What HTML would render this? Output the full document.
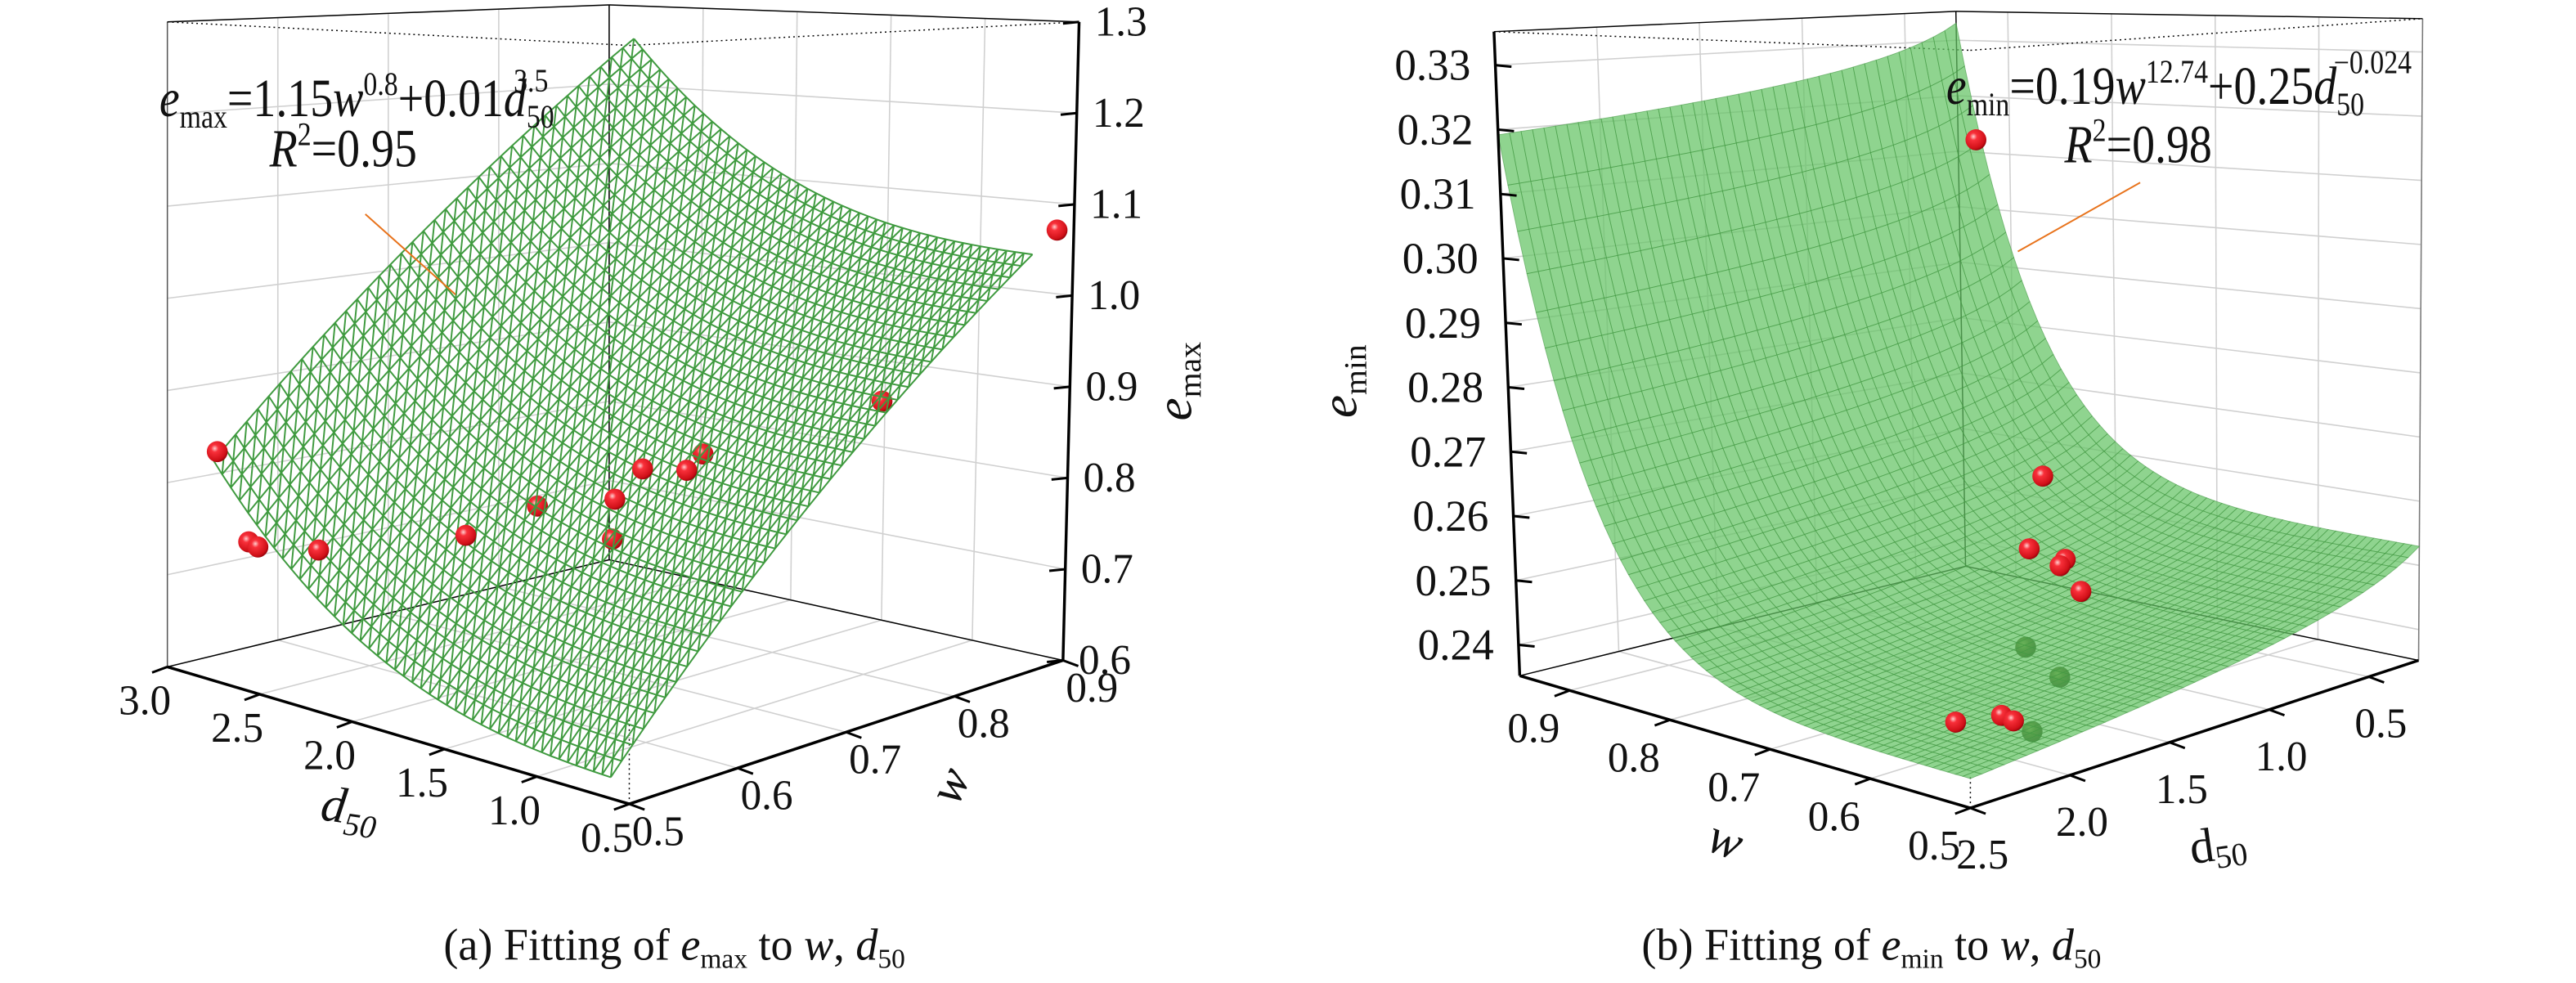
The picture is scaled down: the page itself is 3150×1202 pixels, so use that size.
<!DOCTYPE html>
<html><head><meta charset="utf-8"><title>Fitting of emax and emin</title>
<style>
html,body{margin:0;padding:0;background:#fff;}
svg{display:block;font-family:"Liberation Serif",serif;}
</style></head>
<body>
<svg id="fig" xmlns="http://www.w3.org/2000/svg" width="3150" height="1202" viewBox="0 0 3150 1202">
<defs>
<radialGradient id="redBall" cx="0.38" cy="0.35" r="0.7">
<stop offset="0" stop-color="#ffd0d0"/><stop offset="0.25" stop-color="#f8303a"/><stop offset="0.8" stop-color="#d01018"/><stop offset="1" stop-color="#8a0008"/>
</radialGradient>
<radialGradient id="darkBall" cx="0.38" cy="0.35" r="0.7">
<stop offset="0" stop-color="#7a8a40"/><stop offset="0.4" stop-color="#3a4a10"/><stop offset="1" stop-color="#141e04"/>
</radialGradient>
</defs>
<rect x="0" y="0" width="3150" height="1202" fill="#fff"/>
<g id="chartA" transform="matrix(0.984,0,0,0.992,0,0)"></g>
<g id="chartB" transform="matrix(0.984,0,0,0.992,25.2,0)"></g>
</svg>
<script>
// ---------- Chart (a) data ----------
const A_dTicks = [0.5, 1.0, 1.5, 2.0, 2.5, 3.0];
const A_wTicks = [0.5, 0.6, 0.7, 0.8, 0.9];
const A_zTicks = [0.6, 0.7, 0.8, 0.9, 1.0, 1.1, 1.2, 1.3];
const A_ptD = [2.73, 2.56, 2.51, 2.42, 1.98, 1.95, 1.53, 1.90, 1.50, 1.38, 1.53, 1.04, 0.59];
const A_ptW = [0.50, 0.50, 0.50, 0.54, 0.60, 0.66, 0.66, 0.72, 0.68, 0.70, 0.74, 0.82, 0.90];
const A_ptE = [0.845, 0.757, 0.754, 0.745, 0.765, 0.782, 0.806, 0.732, 0.834, 0.832, 0.834, 0.888, 1.07];
const A_ptHidden = [0, 0, 0, 0, 0, 1, 0, 1, 0, 0, 1, 1, 0];
const A_fitCoef = [1.3, 0.8, 0.00626, 3.5, -0.128];
const A_fitD = [0.6, 2.75];
const A_fitW = [0.5, 0.88];

// ---------- Chart (b) data ----------
const B_dTicks = [0.5, 1.0, 1.5, 2.0, 2.5];
const B_wTicks = [0.5, 0.6, 0.7, 0.8, 0.9];
const B_zTicks = [0.24, 0.25, 0.26, 0.27, 0.28, 0.29, 0.30, 0.31, 0.32, 0.33];
const B_ptD = [0.39, 0.31, 0.61, 0.43, 0.57, 0.58, 1.20, 1.37, 1.85, 2.12, 1.89, 1.83];
const B_ptW = [0.905, 0.86, 0.815, 0.815, 0.7925, 0.77, 0.7025, 0.635, 0.5675, 0.59, 0.59, 0.59];
const B_ptE = [0.313, 0.2547, 0.2461, 0.2428, 0.2437, 0.2403, 0.2392, 0.2386, 0.2374, 0.2402, 0.2392, 0.2379];
const B_ptHidden = [0, 0, 0, 0, 0, 0, 1, 1, 1, 0, 0, 0];
const B_fitCoef = [0.154, 12.74, 0.25, -0.024, -0.0055];
const B_fitD = [0.25, 2.5];
const B_fitW = [0.5, 0.95];

const NS = "http://www.w3.org/2000/svg";
function mk(tag, attrs, parent) {
  const el = document.createElementNS(NS, tag);
  for (const k in attrs) el.setAttribute(k, attrs[k]);
  parent.appendChild(el);
  return el;
}
function line(p, q, style, parent) {
  return mk('line', Object.assign({x1: p[0].toFixed(1), y1: p[1].toFixed(1), x2: q[0].toFixed(1), y2: q[1].toFixed(1)}, style), parent);
}
function projA(d, w, z) {
  const u = (d - 0.5) / 2.5, v = (w - 0.5) / 0.4, t = (z - 0.6) / 0.7;
  const S = 935 - 140 * u - 148 * v + 37 * u * v;
  const x = 782 - 574 * u + 539 * v + 10 * u * v + t * (20 * v - 20 * u * v);
  const y = 991 - 169 * u - 177 * v + 45 * u * v - t * S;
  return [x, y];
}
function projB(d, w, z) {
  const u = (w - 0.5) / 0.45, v = (2.5 - d) / 2.25, t = (z - 0.2352) / 0.1;
  const S = 934 - 140 * u - 143 * v + 33 * u * v;
  const x = 2423 - 560 * u + 557 * v - 3 * u * v + t * (-32 * u + 5 * v + 15 * u * v);
  const y = 996 - 163 * u - 182 * v + 47 * u * v - t * S;
  return [x, y];
}
function fitA(d, w) { return A_fitCoef[0] * Math.pow(w, A_fitCoef[1]) + A_fitCoef[2] * Math.pow(d, A_fitCoef[3]) + A_fitCoef[4]; }
function fitB(d, w) { return B_fitCoef[0] * Math.pow(w, B_fitCoef[1]) + B_fitCoef[2] * Math.pow(d, B_fitCoef[3]) + B_fitCoef[4]; }

const grid = {stroke: '#d0d0d0', 'stroke-width': 1.6};
const thin = {stroke: '#000', 'stroke-width': 1.5};
const axisS = {stroke: '#000', 'stroke-width': 3.5};
const dotted = {stroke: '#000', 'stroke-width': 1.5, 'stroke-dasharray': '2,4'};

function ball(p, hidden, darkColor, parent) {
  return mk('circle', {cx: p[0].toFixed(1), cy: p[1].toFixed(1), r: 13, fill: hidden && darkColor ? 'url(#darkBall)' : 'url(#redBall)'}, parent);
}
function txt(x, y, s, size, parent, extra) {
  const t = mk('text', Object.assign({x: x.toFixed(1), y: y.toFixed(1), 'font-size': size, 'text-anchor': 'middle', 'dominant-baseline': 'central', fill: '#111'}, extra || {}), parent);
  t.textContent = s;
  return t;
}

// =================== Chart A ===================
(function () {
  const g = document.getElementById('chartA');
  const d0 = 0.5, d1 = 3.0, w0 = 0.5, w1 = 0.9, z0 = 0.6, z1 = 1.3;
  A_zTicks.forEach(z => {
    let el = line(projA(d1, w0, z), projA(d1, w1, z), grid, g);
    
    
    el = line(projA(d1, w1, z), projA(d0, w1, z), grid, g);
    
    
  });
  A_wTicks.forEach(w => {
    let el = line(projA(d1, w, z0), projA(d1, w, z1), grid, g);
    
    
    el = line(projA(d0, w, z0), projA(d1, w, z0), grid, g);
    
    
  });
  A_dTicks.forEach(d => {
    let el = line(projA(d, w1, z0), projA(d, w1, z1), grid, g);
    
    
    el = line(projA(d, w0, z0), projA(d, w1, z0), grid, g);
    
    
  });
  let e;
  e = line(projA(d1, w0, z0), projA(d1, w0, z1), {stroke: '#555', 'stroke-width': 1.5}, g);
  
  
  e = line(projA(d1, w1, z0), projA(d1, w1, z1), thin, g);
  
  
  e = line(projA(d1, w0, z1), projA(d1, w1, z1), thin, g);
  
  
  e = line(projA(d1, w1, z1), projA(d0, w1, z1), thin, g);
  
  
  e = line(projA(d1, w0, z1), projA(d0, w0, z1), dotted, g);
  
  
  e = line(projA(d0, w0, z1), projA(d0, w1, z1), dotted, g);
  
  
  e = line(projA(d0, w0, z0), projA(d0, w0, 0.68), dotted, g);
  
  
  e = line(projA(d1, w1, z0), projA(d0, w1, z0), {stroke: '#000', 'stroke-width': 1.5}, g);
  
  
  e = line(projA(d1, w0, z0), projA(d1, w1, z0), {stroke: '#000', 'stroke-width': 1.5}, g);
  
  

  A_ptD.forEach((d, i) => {
    if (!A_ptHidden[i]) return;
    const c = ball(projA(d, A_ptW[i], A_ptE[i]), true, false, g);
    
    
  });

  const ND = 46, NW = 38;
  let pd = '', pw = '', pdg = '';
  const P = [];
  for (let i = 0; i <= ND; i++) {
    P.push([]);
    for (let j = 0; j <= NW; j++) {
      const d = A_fitD[0] + (A_fitD[1] - A_fitD[0]) * i / ND;
      const w = A_fitW[0] + (A_fitW[1] - A_fitW[0]) * j / NW;
      P[i].push(projA(d, w, fitA(d, w)));
    }
  }
  const f = p => p[0].toFixed(1) + ',' + p[1].toFixed(1);
  for (let i = 0; i <= ND; i++) { pd += 'M' + f(P[i][0]); for (let j = 1; j <= NW; j++) pd += 'L' + f(P[i][j]); }
  for (let j = 0; j <= NW; j++) { pw += 'M' + f(P[0][j]); for (let i = 1; i <= ND; i++) pw += 'L' + f(P[i][j]); }
  for (let k = -NW; k <= ND; k++) {
    let first = true;
    for (let i = 0; i <= ND; i++) { const j = i - k; if (j < 0 || j > NW) continue; pdg += (first ? 'M' : 'L') + f(P[i][j]); first = false; }
  }
  const ms = {fill: 'none', stroke: '#3f9a3f', 'stroke-width': 2};
  let m = mk('path', Object.assign({d: pd}, ms), g);
  
  
  m = mk('path', Object.assign({d: pw}, ms), g);
  
  
  m = mk('path', Object.assign({d: pdg}, ms), g);
  
  

  A_ptD.forEach((d, i) => {
    if (A_ptHidden[i]) return;
    const c = ball(projA(d, A_ptW[i], A_ptE[i]), false, false, g);
    
    
  });

  e = line(projA(d0, w1, z0), projA(d0, w1, z1), axisS, g);
  
  
  e = line(projA(d0, w0, z0), projA(d1, w0, z0), axisS, g);
  
  
  e = line(projA(d0, w0, z0), projA(d0, w1, z0), axisS, g);
  
  

  A_zTicks.forEach(z => {
    const p = projA(d0, w1, z);
    let t = line(p, [p[0] - 20, p[1] + 2], {stroke: '#000', 'stroke-width': 3}, g);
    
    
    t = txt(p[0] + 52, p[1], z.toFixed(1), 52, g);
    
    
  });
  A_dTicks.forEach(d => {
    const p = projA(d, w0, z0);
    let t = line(p, [p[0] - 19, p[1] + 7], {stroke: '#000', 'stroke-width': 3}, g);
    
    
    t = txt(p[0] - 28, p[1] + 42, d.toFixed(1), 52, g);
    
    
  });
  A_wTicks.forEach(w => {
    const p = projA(d0, w, z0);
    let t = line(p, [p[0] + 19, p[1] + 7], {stroke: '#000', 'stroke-width': 3}, g);
    
    
    t = txt(p[0] + 36, p[1] + 34, w.toFixed(1), 52, g);
    
    
  });
})();

// =================== Chart B ===================
(function () {
  const g = document.getElementById('chartB');
  const d0 = 2.5, d1 = 0.25, w0 = 0.5, w1 = 0.95, z0 = 0.2352, z1 = 0.3352;
  B_zTicks.forEach(z => {
    let el = line(projB(d0, w1, z), projB(d1, w1, z), grid, g);
    
    
    el = line(projB(d1, w1, z), projB(d1, w0, z), grid, g);
    
    
  });
  B_dTicks.forEach(d => {
    let el = line(projB(d, w1, z0), projB(d, w1, z1), grid, g);
    
    
    el = line(projB(d, w0, z0), projB(d, w1, z0), grid, g);
    
    
  });
  B_wTicks.forEach(w => {
    let el = line(projB(d1, w, z0), projB(d1, w, z1), grid, g);
    
    
    el = line(projB(d0, w, z0), projB(d1, w, z0), grid, g);
    
    
  });
  let e;
  e = line(projB(d1, w1, z0), projB(d1, w1, z1), thin, g);
  
  
  e = line(projB(d1, w0, z0), projB(d1, w0, z1), {stroke: '#777', 'stroke-width': 1.5}, g);
  
  
  e = line(projB(d0, w1, z1), projB(d1, w1, z1), thin, g);
  
  
  e = line(projB(d1, w1, z1), projB(d1, w0, z1), thin, g);
  
  
  e = line(projB(d0, w1, z1), projB(d0, w0, z1), dotted, g);
  
  
  e = line(projB(d0, w0, z1), projB(d1, w0, z1), dotted, g);
  
  
  e = line(projB(d0, w0, z0), projB(d0, w0, 0.2395), dotted, g);
  
  
  e = line(projB(d0, w1, z0), projB(d1, w1, z0), {stroke: '#000', 'stroke-width': 1.5}, g);
  
  
  e = line(projB(d1, w1, z0), projB(d1, w0, z0), {stroke: '#000', 'stroke-width': 1.5}, g);
  
  

  B_ptD.forEach((d, i) => {
    if (!B_ptHidden[i]) return;
    const c = ball(projB(d, B_ptW[i], B_ptE[i]), true, true, g);
    
    
  });

  const NW = 60, ND = 40;
  const P = [];
  for (let i = 0; i <= NW; i++) {
    P.push([]);
    for (let j = 0; j <= ND; j++) {
      const w = B_fitW[0] + (B_fitW[1] - B_fitW[0]) * i / NW;
      const d = B_fitD[1] - (B_fitD[1] - B_fitD[0]) * j / ND;
      P[i].push(projB(d, w, fitB(d, w)));
    }
  }
  const f = p => p[0].toFixed(1) + ',' + p[1].toFixed(1);
  const quads = [];
  for (let i = 0; i < NW; i++) for (let j = 0; j < ND; j++) quads.push([i, j, i / NW + j / ND]);
  quads.sort((a, b) => b[2] - a[2]);
  const sg = mk('g', {}, g);
  
  
  quads.forEach(q => {
    const i = q[0], j = q[1];
    const dstr = 'M' + f(P[i][j]) + 'L' + f(P[i + 1][j]) + 'L' + f(P[i + 1][j + 1]) + 'L' + f(P[i][j + 1]) + 'Z';
    const pth = mk('path', {d: dstr, fill: 'rgba(100,196,100,0.72)', stroke: 'rgba(65,150,65,0.6)', 'stroke-width': 0.9}, sg);
    
    
  });

  B_ptD.forEach((d, i) => {
    if (B_ptHidden[i]) return;
    const c = ball(projB(d, B_ptW[i], B_ptE[i]), false, true, g);
    
    
  });

  e = line(projB(d0, w1, z0), projB(d0, w1, z1), axisS, g);
  
  
  e = line(projB(d0, w0, z0), projB(d0, w1, z0), axisS, g);
  
  
  e = line(projB(d0, w0, z0), projB(d1, w0, z0), axisS, g);
  
  

  B_zTicks.forEach(z => {
    const p = projB(d0, w1, z);
    let t = line(p, [p[0] + 20, p[1] + 2], {stroke: '#000', 'stroke-width': 3}, g);
    
    
    t = txt(p[0] - 78, p[1], z.toFixed(2), 54, g);
    
    
  });
  B_wTicks.forEach(w => {
    const p = projB(d0, w, z0);
    let t = line(p, [p[0] - 19, p[1] + 7], {stroke: '#000', 'stroke-width': 3}, g);
    
    
    t = txt(p[0] - 45, p[1] + 47, w.toFixed(1), 52, g);
    
    
  });
  B_dTicks.forEach(d => {
    const p = projB(d, w0, z0);
    let t = line(p, [p[0] + 19, p[1] + 7], {stroke: '#000', 'stroke-width': 3}, g);
    
    
    t = txt(p[0] + 15, p[1] + 58, d.toFixed(1), 52, g);
    
    
  });
})();
</script>
<svg width="3150" height="1202" viewBox="0 0 3150 1202" style="position:absolute;left:0;top:0;font-family:'Liberation Serif',serif">
<g transform="matrix(0.984,0,0,0.992,0,0)" fill="#111">
  <line x1="454" y1="264" x2="566" y2="363" stroke="#e8731c" stroke-width="2"/>
  <g transform="translate(198,143) scale(0.86,1)">
    <text x="0" y="0" font-size="66"><tspan font-style="italic">e</tspan><tspan font-size="40" dy="14">max</tspan><tspan dy="-14">=1.15</tspan><tspan font-style="italic">w</tspan><tspan font-size="40" dy="-26">0.8</tspan><tspan dy="26">+0.01</tspan><tspan font-style="italic">d</tspan><tspan font-size="40" dy="14">50</tspan></text>
    <text x="512" y="-30" font-size="40">3.5</text>
  </g>
  <g transform="translate(335,205) scale(0.86,1)">
    <text x="0" y="0" font-size="66"><tspan font-style="italic">R</tspan><tspan font-size="40" dy="-26">2</tspan><tspan dy="26">=0.95</tspan></text>
  </g>
  <text transform="translate(1480,470) rotate(-90)" font-size="64" text-anchor="middle"><tspan font-style="italic">e</tspan><tspan font-size="40" dy="12">max</tspan></text>
  <text transform="translate(432,1015) rotate(8)" font-size="62" text-anchor="middle"><tspan font-style="italic">d</tspan><tspan font-size="40" font-style="italic" dy="14">50</tspan></text>
  <text transform="translate(1180,968) rotate(-65)" font-size="62" font-style="italic" text-anchor="middle" dominant-baseline="central">w</text>
  <text x="838" y="1183" font-size="55" text-anchor="middle">(a) Fitting of <tspan font-style="italic">e</tspan><tspan font-size="34" dy="10">max</tspan><tspan dy="-10"> to </tspan><tspan font-style="italic">w</tspan>, <tspan font-style="italic">d</tspan><tspan font-size="34" dy="10">50</tspan></text>
</g>
<g transform="matrix(0.984,0,0,0.992,25.2,0)" fill="#111">
  <line x1="2634" y1="225" x2="2482" y2="310" stroke="#e8731c" stroke-width="2"/>
  <g transform="translate(2393,128) scale(0.86,1)">
    <text x="0" y="0" font-size="66"><tspan font-style="italic">e</tspan><tspan font-size="40" dy="14">min</tspan><tspan dy="-14">=0.19</tspan><tspan font-style="italic">w</tspan><tspan font-size="40" dy="-26">12.74</tspan><tspan dy="26">+0.25</tspan><tspan font-style="italic">d</tspan><tspan font-size="40" dy="14">50</tspan></text>
    <text x="560" y="-38" font-size="40">−0.024</text>
  </g>
  <g transform="translate(2540,200) scale(0.86,1)">
    <text x="0" y="0" font-size="66"><tspan font-style="italic">R</tspan><tspan font-size="40" dy="-26">2</tspan><tspan dy="26">=0.98</tspan></text>
  </g>
  <text transform="translate(1660,470) rotate(-90)" font-size="64" text-anchor="middle"><tspan font-style="italic">e</tspan><tspan font-size="40" dy="12">min</tspan></text>
  <text transform="translate(2119,1035) rotate(20)" font-size="62" font-style="italic" text-anchor="middle" dominant-baseline="central">w</text>
  <text transform="translate(2733,1060) rotate(-8)" font-size="60" text-anchor="middle">d<tspan font-size="40" dy="10">50</tspan></text>
  <text x="2300" y="1183" font-size="55" text-anchor="middle">(b) Fitting of <tspan font-style="italic">e</tspan><tspan font-size="34" dy="10">min</tspan><tspan dy="-10"> to </tspan><tspan font-style="italic">w</tspan>, <tspan font-style="italic">d</tspan><tspan font-size="34" dy="10">50</tspan></text>
</g>
</svg>
</body></html>
